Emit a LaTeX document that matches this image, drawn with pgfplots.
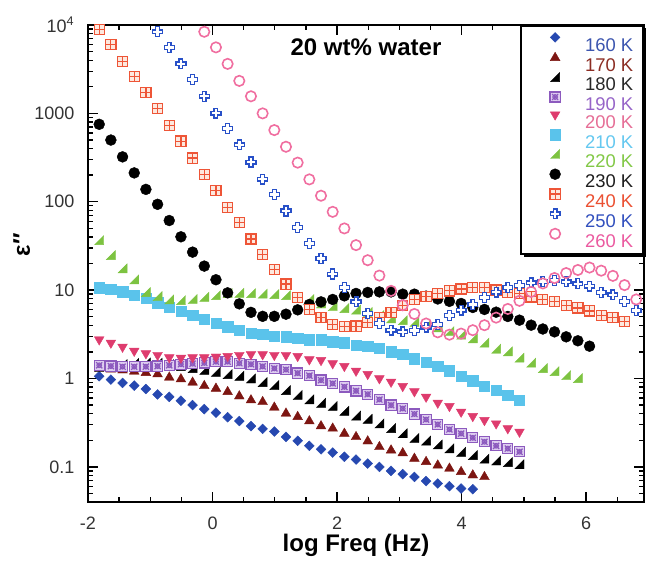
\documentclass[border=0pt]{standalone}
\usepackage{pgfplots}
\pgfplotsset{compat=1.18}
\usepackage{fontspec}
\setmainfont{Liberation Sans}
\usetikzlibrary{shadows}

\definecolor{c160}{RGB}{38,72,176}
\definecolor{c170}{RGB}{125,22,18}
\definecolor{c190}{RGB}{140,90,190}
\definecolor{f190}{RGB}{222,205,240}
\definecolor{c200}{RGB}{222,60,110}
\definecolor{c210}{RGB}{90,195,235}
\definecolor{c220}{RGB}{125,195,65}
\definecolor{c240}{RGB}{238,85,55}
\definecolor{f240}{RGB}{253,232,222}
\definecolor{c250}{RGB}{40,80,200}
\definecolor{c260}{RGB}{240,110,160}
\definecolor{t160}{RGB}{60,85,175}
\definecolor{t170}{RGB}{140,45,35}
\definecolor{t180}{RGB}{40,40,40}
\definecolor{t190}{RGB}{150,100,200}
\definecolor{t200}{RGB}{230,110,150}
\definecolor{t210}{RGB}{100,200,240}
\definecolor{t220}{RGB}{130,200,70}
\definecolor{t230}{RGB}{30,30,30}
\definecolor{t240}{RGB}{235,80,50}
\definecolor{t250}{RGB}{50,80,190}
\definecolor{t260}{RGB}{235,90,160}

\pgfdeclareplotmark{rdiam}{%
  \pgfpathmoveto{\pgfqpoint{0pt}{\pgfplotmarksize}}%
  \pgfpathlineto{\pgfqpoint{\pgfplotmarksize}{0pt}}%
  \pgfpathlineto{\pgfqpoint{0pt}{-\pgfplotmarksize}}%
  \pgfpathlineto{\pgfqpoint{-\pgfplotmarksize}{0pt}}%
  \pgfpathclose\pgfusepathqfillstroke}
\pgfdeclareplotmark{rtri}{%
  \pgfpathmoveto{\pgfqpoint{\pgfplotmarksize}{-\pgfplotmarksize}}%
  \pgfpathlineto{\pgfqpoint{\pgfplotmarksize}{\pgfplotmarksize}}%
  \pgfpathlineto{\pgfqpoint{-\pgfplotmarksize}{-\pgfplotmarksize}}%
  \pgfpathclose\pgfusepathqfillstroke}
\pgfdeclareplotmark{sqx}{%
  \pgfpathrectangle{\pgfqpoint{-\pgfplotmarksize}{-\pgfplotmarksize}}{\pgfqpoint{2\pgfplotmarksize}{2\pgfplotmarksize}}%
  \pgfusepathqfillstroke
  \pgfpathmoveto{\pgfqpoint{-0.6\pgfplotmarksize}{-0.6\pgfplotmarksize}}%
  \pgfpathlineto{\pgfqpoint{0.6\pgfplotmarksize}{0.6\pgfplotmarksize}}%
  \pgfpathmoveto{\pgfqpoint{-0.6\pgfplotmarksize}{0.6\pgfplotmarksize}}%
  \pgfpathlineto{\pgfqpoint{0.6\pgfplotmarksize}{-0.6\pgfplotmarksize}}%
  \pgfpathcircle{\pgfpointorigin}{0.45\pgfplotmarksize}%
  \pgfusepathqstroke}
\pgfdeclareplotmark{sqplus}{%
  \pgfpathrectangle{\pgfqpoint{-\pgfplotmarksize}{-\pgfplotmarksize}}{\pgfqpoint{2\pgfplotmarksize}{2\pgfplotmarksize}}%
  \pgfusepathqfillstroke
  \pgfpathmoveto{\pgfqpoint{-\pgfplotmarksize}{0pt}}%
  \pgfpathlineto{\pgfqpoint{\pgfplotmarksize}{0pt}}%
  \pgfpathmoveto{\pgfqpoint{0pt}{-\pgfplotmarksize}}%
  \pgfpathlineto{\pgfqpoint{0pt}{\pgfplotmarksize}}%
  \pgfusepathqstroke}
\pgfdeclareplotmark{plusout}{%
  \pgfpathmoveto{\pgfqpoint{-0.38\pgfplotmarksize}{\pgfplotmarksize}}%
  \pgfpathlineto{\pgfqpoint{0.38\pgfplotmarksize}{\pgfplotmarksize}}%
  \pgfpathlineto{\pgfqpoint{0.38\pgfplotmarksize}{0.38\pgfplotmarksize}}%
  \pgfpathlineto{\pgfqpoint{\pgfplotmarksize}{0.38\pgfplotmarksize}}%
  \pgfpathlineto{\pgfqpoint{\pgfplotmarksize}{-0.38\pgfplotmarksize}}%
  \pgfpathlineto{\pgfqpoint{0.38\pgfplotmarksize}{-0.38\pgfplotmarksize}}%
  \pgfpathlineto{\pgfqpoint{0.38\pgfplotmarksize}{-\pgfplotmarksize}}%
  \pgfpathlineto{\pgfqpoint{-0.38\pgfplotmarksize}{-\pgfplotmarksize}}%
  \pgfpathlineto{\pgfqpoint{-0.38\pgfplotmarksize}{-0.38\pgfplotmarksize}}%
  \pgfpathlineto{\pgfqpoint{-\pgfplotmarksize}{-0.38\pgfplotmarksize}}%
  \pgfpathlineto{\pgfqpoint{-\pgfplotmarksize}{0.38\pgfplotmarksize}}%
  \pgfpathlineto{\pgfqpoint{-0.38\pgfplotmarksize}{0.38\pgfplotmarksize}}%
  \pgfpathclose\pgfusepathqfillstroke}

\begin{document}
\begin{tikzpicture}
\begin{axis}[
  scale only axis, width=417pt, height=357.75pt,
  xmin=-2, xmax=6.93, ymode=log, ymin=0.04, ymax=10000,
  axis line style={line width=1.8pt},
  tick style={line width=1pt, black},
  major tick length=7.5pt, minor tick length=4pt,
  xtick={-2,0,2,4,6}, xticklabels={-2,0,2,4,6},
  minor xtick={-1.5,-1,-0.5,0.5,1,1.5,2.5,3,3.5,4.5,5,5.5,6.5},
  ytick={0.1,1,10,100,1000,10000},
  yticklabels={0.1,1,10,100,1000,10\textsuperscript{4}},
  minor ytick={0.04,0.05,0.06,0.07,0.08,0.09,0.2,0.3,0.4,0.5,0.6,0.7,0.8,0.9,2,3,4,5,6,7,8,9,20,30,40,50,60,70,80,90,200,300,400,500,600,700,800,900,2000,3000,4000,5000,6000,7000,8000,9000},
  /pgf/number format/assume math mode=true,
  xticklabel style={font=\fontsize{13.5}{15}\selectfont, text=black!80, yshift=-8pt},
  yticklabel style={font=\fontsize{13.5}{15}\selectfont, text=black!80, xshift=-6.7pt},
  xlabel={log Freq (Hz)},
  xlabel style={at={(axis description cs:0.482,0)}, anchor=base, yshift=-37pt, font=\bfseries\fontsize{18}{20}\selectfont},
  ylabel={ε″},
  ylabel style={at={(axis description cs:-0.119,0.539)}, anchor=center, font=\bfseries\fontsize{18}{20}\selectfont},
  only marks,
  legend image code/.code={\pgfpathmoveto{\pgfqpoint{-18pt}{0pt}}\pgfpathmoveto{\pgfqpoint{22.5pt}{0pt}}\pgfusepath{}\draw[#1] plot coordinates {(0pt,4.8pt)};},
  legend cell align=left,
  legend style={at={(1,1)}, anchor=north east, draw=black, line width=1.2pt, fill=white,
    inner xsep=7.5pt, inner ysep=5pt, row sep=0.8pt,
    font=\fontsize{13.8}{15}\selectfont,
    nodes={inner sep=0pt, text height=11pt, text depth=0pt, anchor=west},
    drop shadow={shadow xshift=1.8pt, shadow yshift=-1.8pt, fill=black, opacity=1}},
]
% 160 K
\addplot[mark=rdiam, mark size=3.7pt, mark options={draw=c160, fill=c160, line width=0.3pt}] coordinates {
(-1.82,1.06) (-1.6325,0.97) (-1.445,0.89) (-1.2575,0.83) (-1.07,0.76) (-0.8825,0.66) (-0.695,0.62) (-0.5075,0.56) (-0.32,0.50) (-0.1325,0.45) (0.055,0.41) (0.2425,0.365) (0.43,0.33) (0.6175,0.289) (0.805,0.269) (0.9925,0.251) (1.18,0.218) (1.3675,0.197) (1.555,0.173) (1.7425,0.158) (1.93,0.145) (2.1175,0.130) (2.305,0.121) (2.4925,0.109) (2.68,0.0998) (2.8675,0.090) (3.055,0.0826) (3.2425,0.0769) (3.43,0.069) (3.6175,0.0648) (3.805,0.0604) (3.9925,0.0568) (4.18,0.0558)};
\addlegendentry{\textcolor{t160}{160 K}}
% 170 K
\addplot[mark=triangle*, mark size=4.2pt, mark options={draw=c170, fill=c170, line width=0.3pt}] coordinates {
(-1.82,1.30) (-1.6325,1.27) (-1.445,1.24) (-1.2575,1.20) (-1.07,1.16) (-0.8825,1.118) (-0.695,1.026) (-0.5075,0.982) (-0.32,0.901) (-0.1325,0.824) (0.055,0.770) (0.2425,0.705) (0.43,0.630) (0.6175,0.568) (0.805,0.543) (0.9925,0.470) (1.18,0.402) (1.3675,0.368) (1.555,0.329) (1.7425,0.289) (1.93,0.272) (2.1175,0.238) (2.305,0.218) (2.4925,0.195) (2.68,0.168) (2.8675,0.154) (3.055,0.143) (3.2425,0.124) (3.43,0.114) (3.6175,0.104) (3.805,0.0958) (3.9925,0.0877) (4.18,0.0804) (4.3675,0.0769)};
\addlegendentry{\textcolor{t170}{170 K}}
% 180 K
\addplot[mark=rtri, mark size=3.4pt, mark options={draw=black, fill=black, line width=0.3pt}] coordinates {
(-1.82,1.35) (-1.6325,1.40) (-1.445,1.45) (-1.2575,1.50) (-1.07,1.52) (-0.8825,1.50) (-0.695,1.45) (-0.5075,1.38) (-0.32,1.31) (-0.1325,1.25) (0.055,1.19) (0.2425,1.12) (0.43,1.07) (0.6175,1.00) (0.805,0.91) (0.9925,0.84) (1.18,0.74) (1.3675,0.65) (1.555,0.58) (1.7425,0.53) (1.93,0.49) (2.1175,0.43) (2.305,0.38) (2.4925,0.35) (2.68,0.31) (2.8675,0.275) (3.055,0.24) (3.2425,0.212) (3.43,0.198) (3.6175,0.180) (3.805,0.162) (3.9925,0.148) (4.18,0.136) (4.3675,0.124) (4.555,0.118) (4.7425,0.113) (4.93,0.107)};
\addlegendentry{\textcolor{t180}{180 K}}
% 190 K
\addplot[mark=sqx, mark size=3.8pt, mark options={draw=c190, fill=f190, line width=0.9pt}] coordinates {
(-1.82,1.41) (-1.6325,1.38) (-1.445,1.36) (-1.2575,1.36) (-1.07,1.36) (-0.8825,1.38) (-0.695,1.41) (-0.5075,1.45) (-0.32,1.47) (-0.1325,1.50) (0.055,1.55) (0.2425,1.55) (0.43,1.49) (0.6175,1.45) (0.805,1.37) (0.9925,1.30) (1.18,1.26) (1.3675,1.15) (1.555,1.076) (1.7425,0.957) (1.93,0.878) (2.1175,0.803) (2.305,0.724) (2.4925,0.664) (2.68,0.578) (2.8675,0.499) (3.055,0.457) (3.2425,0.396) (3.43,0.343) (3.6175,0.302) (3.805,0.265) (3.9925,0.238) (4.18,0.213) (4.3675,0.192) (4.555,0.173) (4.7425,0.161) (4.93,0.148)};
\addlegendentry{\textcolor{t190}{190 K}}
% 200 K
\addplot[mark=triangle*, mark size=4.2pt, mark options={rotate=180, draw=c200, fill=c200, line width=0.3pt}] coordinates {
(-1.82,2.76) (-1.6325,2.53) (-1.445,2.28) (-1.2575,2.05) (-1.07,1.92) (-0.8825,1.84) (-0.695,1.73) (-0.5075,1.71) (-0.32,1.73) (-0.1325,1.73) (0.055,1.76) (0.2425,1.79) (0.43,1.84) (0.6175,1.88) (0.805,1.87) (0.9925,1.84) (1.18,1.84) (1.3675,1.79) (1.555,1.64) (1.7425,1.61) (1.93,1.48) (2.1175,1.38) (2.305,1.22) (2.4925,1.12) (2.68,1.00) (2.8675,0.915) (3.055,0.818) (3.2425,0.713) (3.43,0.619) (3.6175,0.530) (3.805,0.486) (3.9925,0.419) (4.18,0.374) (4.3675,0.337) (4.555,0.309) (4.7425,0.272) (4.93,0.249)};
\addlegendentry{\textcolor{t200}{200 K}}
% 210 K
\addplot[mark=square*, mark size=3.9pt, mark options={draw=c210, fill=c210, line width=0.3pt}] coordinates {
(-1.82,10.6) (-1.6325,10.2) (-1.445,9.55) (-1.2575,8.77) (-1.07,8.05) (-0.8825,7.17) (-0.695,6.41) (-0.5075,5.78) (-0.32,5.21) (-0.1325,4.65) (0.055,4.19) (0.2425,3.84) (0.43,3.52) (0.6175,3.26) (0.805,3.17) (0.9925,3.01) (1.18,2.96) (1.3675,2.84) (1.555,2.76) (1.7425,2.76) (1.93,2.60) (2.1175,2.53) (2.305,2.38) (2.4925,2.32) (2.68,2.19) (2.8675,2.00) (3.055,1.87) (3.2425,1.68) (3.43,1.54) (3.6175,1.38) (3.805,1.22) (3.9925,1.06) (4.18,0.94) (4.3675,0.818) (4.555,0.737) (4.7425,0.647) (4.93,0.568)};
\addlegendentry{\textcolor{t210}{210 K}}
% 220 K
\addplot[mark=rtri, mark size=3.4pt, mark options={draw=c220, fill=c220, line width=0.3pt}] coordinates {
(-1.82,36.8) (-1.6325,24.9) (-1.445,17.6) (-1.2575,13.2) (-1.07,9.5) (-0.8825,8.54) (-0.695,7.84) (-0.5075,7.70) (-0.32,7.94) (-0.1325,8.39) (0.055,8.77) (0.2425,9.24) (0.43,9.31) (0.6175,9.24) (0.805,9.12) (0.9925,9.00) (1.18,8.77) (1.3675,8.39) (1.555,7.90) (1.7425,7.06) (1.93,6.58) (2.1175,6.25) (2.305,6.01) (2.4925,5.68) (2.68,5.21) (2.8675,4.78) (3.055,4.57) (3.2425,4.37) (3.43,4.01) (3.6175,3.78) (3.805,3.43) (3.9925,3.13) (4.18,2.84) (4.3675,2.54) (4.555,2.17) (4.7425,2.03) (4.93,1.72) (5.1175,1.51) (5.305,1.31) (5.4925,1.21) (5.68,1.09) (5.8675,1.01)};
\addlegendentry{\textcolor{t220}{220 K}}
% 230 K
\addplot[mark=*, mark size=4.1pt, mark options={draw=black, fill=black, line width=0.3pt}] coordinates {
(-1.82,752) (-1.6325,499) (-1.445,322) (-1.2575,212) (-1.07,138) (-0.8825,93.5) (-0.695,61.3) (-0.5075,40.1) (-0.32,26.9) (-0.1325,18.7) (0.055,13.1) (0.2425,9.31) (0.43,6.99) (0.6175,5.60) (0.805,5.05) (0.9925,5.05) (1.18,5.34) (1.3675,5.98) (1.555,6.88) (1.7425,7.36) (1.93,7.84) (2.1175,8.61) (2.305,9.17) (2.4925,9.41) (2.68,9.55) (2.8675,9.55) (3.055,9.00) (3.2425,9.00) (3.43,8.54) (3.6175,7.94) (3.805,7.46) (3.9925,7.06) (4.18,6.36) (4.3675,6.04) (4.555,5.63) (4.7425,5.03) (4.93,4.57) (5.1175,4.01) (5.305,3.63) (5.4925,3.37) (5.68,2.96) (5.8675,2.67) (6.055,2.32)};
\addlegendentry{\textcolor{t230}{230 K}}
% 240 K
\addplot[mark=sqplus, mark size=3.8pt, mark options={draw=c240, fill=f240, line width=0.9pt}] coordinates {
(-1.82,8946) (-1.6325,6040) (-1.445,3855) (-1.2575,2594) (-1.07,1728) (-0.8825,1127) (-0.695,723) (-0.5075,485) (-0.32,312) (-0.1325,205) (0.055,133) (0.2425,86.2) (0.43,58.3) (0.6175,37.9) (0.805,25.2) (0.9925,17.0) (1.18,11.7) (1.3675,8.22) (1.555,6.04) (1.7425,4.88) (1.93,4.06) (2.1175,3.88) (2.305,3.91) (2.4925,4.28) (2.68,4.88) (2.8675,5.60) (3.055,6.75) (3.2425,7.82) (3.43,8.54) (3.6175,9.10) (3.805,9.81) (3.9925,10.3) (4.18,10.7) (4.3675,10.7) (4.555,9.99) (4.7425,9.48) (4.93,9.17) (5.1175,8.39) (5.305,7.84) (5.4925,7.46) (5.68,6.75) (5.8675,6.28) (6.055,5.81) (6.2425,5.17) (6.43,4.88) (6.6175,4.43)};
\addlegendentry{\textcolor{t240}{240 K}}
% 250 K
\addplot[mark=plusout, mark size=3.7pt, mark options={draw=c250, fill=white, line width=1pt}] coordinates {
(-0.8825,8385) (-0.695,5585) (-0.5075,3631) (-0.32,2425) (-0.1325,1561) (0.055,1007) (0.2425,676) (0.43,441) (0.6175,281) (0.805,180) (0.9925,121) (1.18,78.7) (1.3675,50.9) (1.555,33.7) (1.7425,22.8) (1.93,15.2) (2.1175,10.7) (2.305,7.36) (2.4925,5.44) (2.68,4.19) (2.8675,3.52) (3.055,3.37) (3.2425,3.48) (3.43,3.81) (3.6175,4.06) (3.805,5.17) (3.9925,5.93) (4.18,6.84) (4.3675,8.28) (4.555,9.48) (4.7425,10.7) (4.93,11.3) (5.1175,12.1) (5.305,12.5) (5.4925,12.9) (5.68,12.4) (5.8675,11.8) (6.055,11.1) (6.2425,9.36) (6.43,8.84) (6.6175,7.46) (6.805,5.89)};
\addlegendentry{\textcolor{t250}{250 K}}
% 260 K
\addplot[mark=o, mark size=3.9pt, mark options={draw=c260, fill=white, line width=1.2pt}] coordinates {
(-0.1325,8385) (0.055,5585) (0.2425,3631) (0.43,2332) (0.6175,1561) (0.805,1000) (0.9925,647) (1.18,419) (1.3675,277) (1.555,179) (1.7425,117) (1.93,76.9) (2.1175,49.9) (2.305,32.3) (2.4925,21.8) (2.68,14.6) (2.8675,9.81) (3.055,6.75) (3.2425,5.37) (3.43,4.19) (3.6175,3.33) (3.805,3.13) (3.9925,3.22) (4.18,3.52) (4.3675,4.01) (4.555,4.88) (4.7425,6.12) (4.93,7.56) (5.1175,9.55) (5.305,11.9) (5.4925,13.7) (5.68,15.6) (5.8675,16.9) (6.055,18.0) (6.2425,16.6) (6.43,14.5) (6.6175,11.4) (6.805,7.84)};
\addlegendentry{\textcolor{t260}{260 K}}
\node[font=\bfseries\fontsize{18}{20}\selectfont] at (rel axis cs:0.5,0.954) {20 wt\% water};
\end{axis}
\path ([shift={(-66pt,-40.5pt)}]current axis.south west) rectangle ([shift={(3pt,18.75pt)}]current axis.north east);
\end{tikzpicture}
\end{document}
